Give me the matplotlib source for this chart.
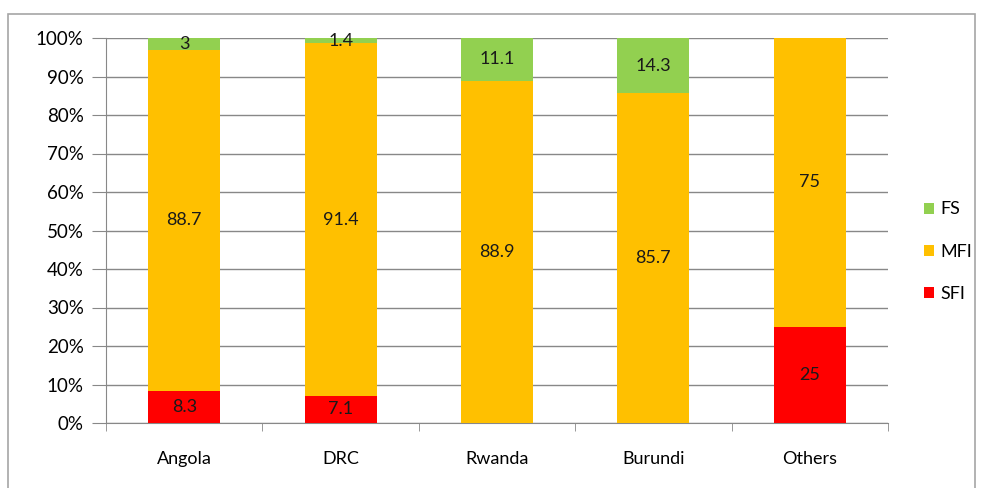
import numpy as np
import matplotlib.pyplot as plt
from matplotlib.patches import Rectangle
from matplotlib.ticker import FixedLocator

countries = ['Angola', 'DRC', 'Rwanda', 'Burundi', 'Others']
sfi = [8.3, 7.1, 0, 0, 25]
mfi = [88.7, 91.4, 88.9, 85.7, 75]
fs = [3, 1.4, 11.1, 14.3, 0]

series = [('SFI', sfi, '#FF0000'), ('MFI', mfi, '#FFC000'), ('FS', fs, '#92D050')]

plt.rcParams['font.family'] = ['Lato', 'DejaVu Sans']

fig = plt.figure(figsize=(9.81, 4.88), dpi=100)
fig.patches.append(Rectangle((8 / 981, -0.01), 967 / 981, 1 - 14 / 488 + 0.01,
                             transform=fig.transFigure, fill=False,
                             edgecolor='#A6A6A6', linewidth=1.2))
ax = fig.add_axes([106 / 981, 65 / 488, 782 / 981, 385 / 488])

x = np.arange(len(countries))
totals = np.sum([s[1] for s in series], axis=0)
bottom = np.zeros(len(countries))
handles = []
for name, vals, color in series:
    vals = np.array(vals, dtype=float)
    pct = vals / totals * 100
    h = ax.bar(x, pct, 0.46, bottom=bottom, color=color, label=name, zorder=3)
    handles.append(h)
    for xi, b, p, v in zip(x, bottom, pct, vals):
        if v > 0:
            ax.text(xi, b + p / 2, '%g' % v, ha='center', va='center',
                    fontsize=13, color='#1a1a1a', zorder=4)
    bottom += pct

ax.set_xlim(-0.5, len(countries) - 0.5)
ax.set_ylim(0, 100)
ax.set_yticks(np.arange(0, 101, 10))
ax.set_yticklabels(['%d%%' % t for t in range(0, 101, 10)], fontsize=13.5)
ax.yaxis.grid(True, color='#888888', linewidth=1)
ax.set_axisbelow(True)

ax.set_xticks(x)
ax.set_xticklabels(countries, fontsize=13)
ax.tick_params(axis='x', which='major', length=0, pad=20)
ax.xaxis.set_minor_locator(FixedLocator(np.arange(-0.5, len(countries), 1)))
ax.tick_params(axis='x', which='minor', length=6, color='#888888')
ax.tick_params(axis='y', length=10, color='#888888', pad=6)

for side in ['top', 'right']:
    ax.spines[side].set_visible(False)
for side in ['left', 'bottom']:
    ax.spines[side].set_color('#888888')

leg = ax.legend(handles[::-1], ['FS', 'MFI', 'SFI'], loc='center left',
                bbox_to_anchor=(1.025, 0.445), frameon=False, fontsize=13,
                handlelength=0.55, handleheight=0.55, handletextpad=0.35,
                labelspacing=1.45)

fig.savefig('out.png', dpi=100)
